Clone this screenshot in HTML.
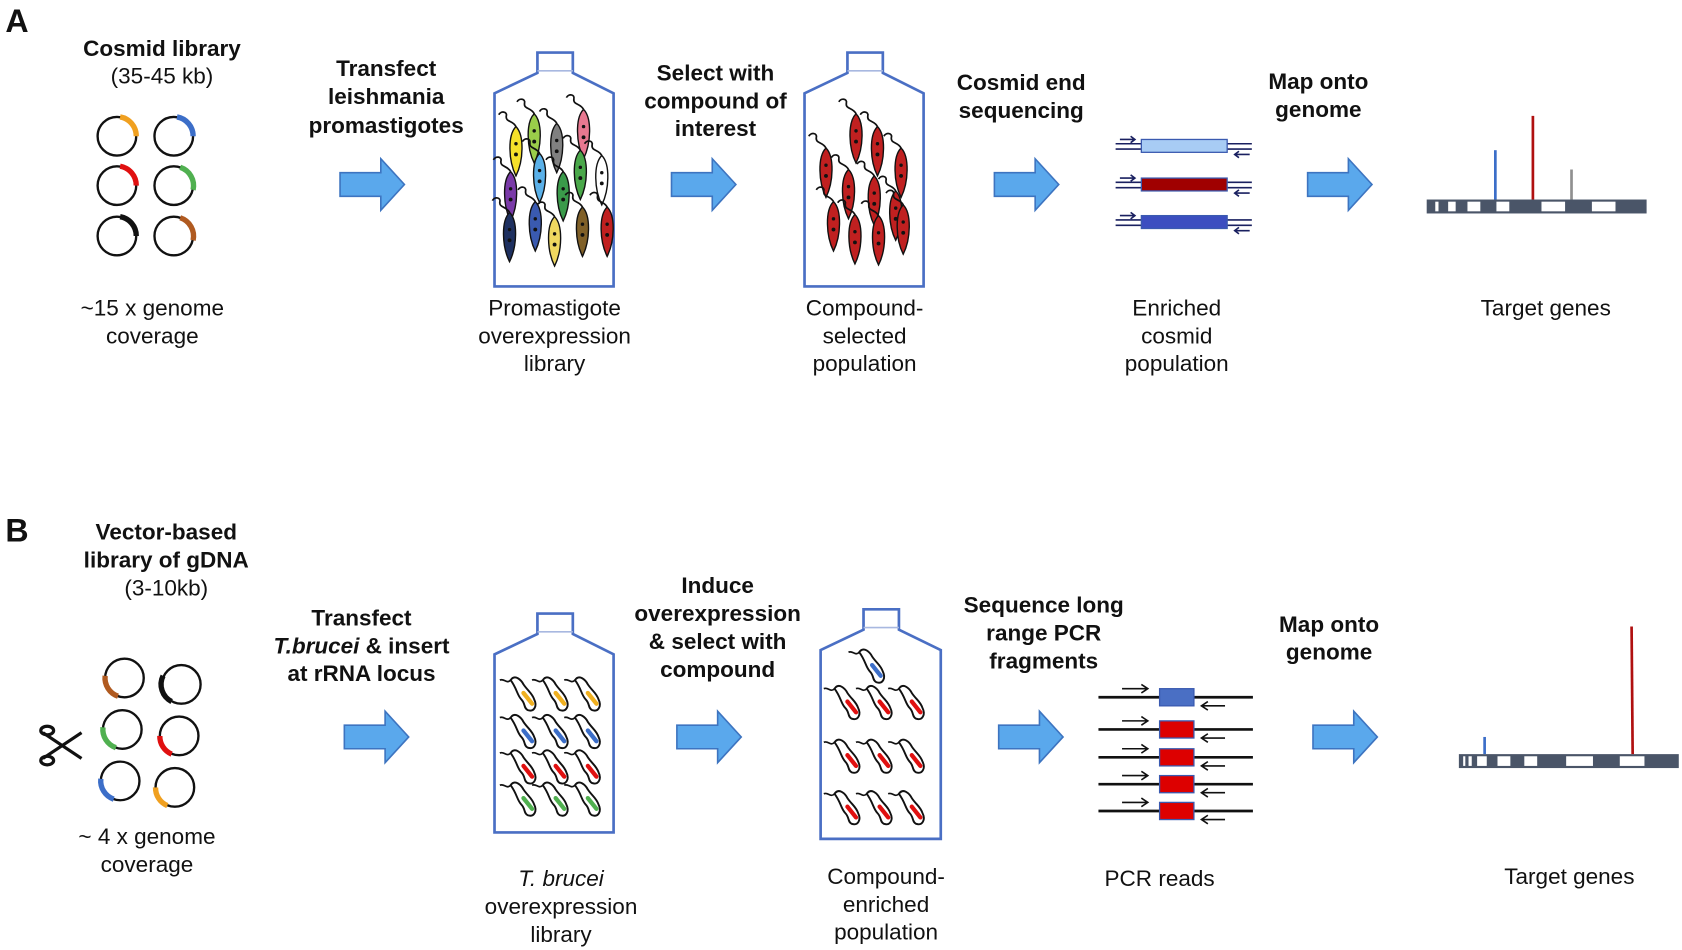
<!DOCTYPE html>
<html><head><meta charset="utf-8"><style>
html,body{margin:0;padding:0;background:#fff;}
svg{display:block;}
text{font-family:"Liberation Sans",Arial,sans-serif;font-size:21px;fill:#111;text-anchor:middle;}
.b{font-weight:bold;}
</style></head><body>
<svg width="1682" height="950" viewBox="0 0 1568 885.6" preserveAspectRatio="none" xmlns="http://www.w3.org/2000/svg">
<defs>
<g id="arr"><polygon points="0,-11 38,-11 38,-24 60,0 38,24 38,11 0,11" fill="#5aa8ec" stroke="#3d74c0" stroke-width="1.5"/></g>
<g id="para"><path d="M0,-22 C8,-14 7,10 0,24 C-7,10 -8,-14 0,-22Z" stroke="#111" stroke-width="1.3"/><path d="M0,-22 C-3,-28 -10,-26 -9,-32 C-8,-36 -14,-37 -16,-33" fill="none" stroke="#111" stroke-width="1.6"/><circle cx="0" cy="-6" r="1.6" fill="#111"/><circle cx="0" cy="4" r="1.8" fill="#111"/></g>
<g id="tb"><path d="M-14,-14 C-10,-20 -4,-14 -2,-10 C2,-4 6,-2 8,4 C11,10 8,16 2,14 C-2,12 0,8 -4,4 C-8,0 -8,-6 -14,-14Z" fill="none" stroke="#111" stroke-width="1.8"/><path d="M-14,-14 C-18,-10 -20,-16 -24,-14" fill="none" stroke="#111" stroke-width="1.6"/></g>
</defs>

<!-- Panel A -->
<text x="5" y="30" class="b" style="font-size:30px;text-anchor:start">A</text>
<text x="151" y="52" class="b">Cosmid library</text>
<text x="151" y="78">(35-45 kb)</text>
<g fill="none" stroke="#111" stroke-width="2.2">
<circle cx="109" cy="127" r="18"/><circle cx="162" cy="127" r="18"/>
<circle cx="109" cy="173" r="18"/><circle cx="162" cy="173" r="18"/>
<circle cx="109" cy="220" r="18"/><circle cx="162" cy="220" r="18"/>
</g>
<g fill="none" stroke-width="5">
<path d="M112,109 A18,18 0 0 1 127,127" stroke="#f0a020"/>
<path d="M165,109 A18,18 0 0 1 180,127" stroke="#3c6ec8"/>
<path d="M112,155 A18,18 0 0 1 127,173" stroke="#e01010"/>
<path d="M168,156 A18,18 0 0 1 180,177" stroke="#50b050"/>
<path d="M112,202 A18,18 0 0 1 127,220" stroke="#111"/>
<path d="M168,203 A18,18 0 0 1 180,224" stroke="#b05a20"/>
</g>
<text x="142" y="294">~15 x genome</text>
<text x="142" y="320">coverage</text>

<text x="360" y="71" class="b">Transfect</text>
<text x="360" y="97" class="b">leishmania</text>
<text x="360" y="124" class="b">promastigotes</text>
<use href="#arr" x="317" y="172"/>

<path d="M461,267 L461,87 L501,68 L501,49 L534,49 L534,68 L572,87 L572,267 Z" fill="none" stroke="#4a6fc4" stroke-width="2.5"/>
<line x1="501" y1="66" x2="534" y2="66" stroke="#a8b8e0" stroke-width="1.5"/>
<use href="#para" x="481" y="140" fill="#f5e02a"/>
<use href="#para" x="498" y="128" fill="#9acd4a"/>
<use href="#para" x="519" y="137" fill="#808080"/>
<use href="#para" x="544" y="124" fill="#e87890"/>
<use href="#para" x="476" y="182" fill="#7a3aa8"/>
<use href="#para" x="503" y="165" fill="#5ab0e8"/>
<use href="#para" x="525" y="182" fill="#3a9a4a"/>
<use href="#para" x="541" y="162" fill="#4aa84a"/>
<use href="#para" x="561" y="167" fill="#ffffff"/>
<use href="#para" x="475" y="220" fill="#1e3060"/>
<use href="#para" x="499" y="210" fill="#3a5ab0"/>
<use href="#para" x="517" y="224" fill="#f0d860"/>
<use href="#para" x="543" y="215" fill="#806028"/>
<use href="#para" x="566" y="215" fill="#c02020"/>
<text x="517" y="294">Promastigote</text>
<text x="517" y="320">overexpression</text>
<text x="517" y="346">library</text>

<text x="667" y="75" class="b">Select with</text>
<text x="667" y="101" class="b">compound of</text>
<text x="667" y="127" class="b">interest</text>
<use href="#arr" x="626" y="172"/>

<path d="M750,267 L750,87 L790,68 L790,49 L823,49 L823,68 L861,87 L861,267 Z" fill="none" stroke="#4a6fc4" stroke-width="2.5"/>
<line x1="790" y1="66" x2="823" y2="66" stroke="#a8b8e0" stroke-width="1.5"/>
<g fill="#c02020">
<use href="#para" x="798" y="128"/><use href="#para" x="818" y="140"/>
<use href="#para" x="770" y="160"/><use href="#para" x="840" y="160"/>
<use href="#para" x="791" y="180"/><use href="#para" x="815" y="186"/>
<use href="#para" x="835" y="200"/><use href="#para" x="777" y="210"/>
<use href="#para" x="797" y="222"/><use href="#para" x="819" y="223"/>
<use href="#para" x="842" y="213"/>
</g>
<text x="806" y="294">Compound-</text>
<text x="806" y="320">selected</text>
<text x="806" y="346">population</text>

<text x="952" y="84" class="b">Cosmid end</text>
<text x="952" y="110" class="b">sequencing</text>
<use href="#arr" x="927" y="172"/>

<g stroke="#1a2060" stroke-width="1.5" fill="none">
<path d="M1040,134 H1167 M1040,139 H1167 M1040,170 H1167 M1040,175 H1167 M1040,205 H1167 M1040,210 H1167"/>
<path d="M1044,130 H1058 M1054,127 L1058,130 L1054,133 M1044,166 H1058 M1054,163 L1058,166 L1054,169 M1044,201 H1058 M1054,198 L1058,201 L1054,204"/>
<path d="M1165,144 H1151 M1155,141 L1151,144 L1155,147 M1165,180 H1151 M1155,177 L1151,180 L1155,183 M1165,215 H1151 M1155,212 L1151,215 L1155,218"/>
</g>
<rect x="1064" y="130" width="80" height="12" fill="#a8ccf4" stroke="#3a5ab0" stroke-width="1.2"/>
<rect x="1064" y="166" width="80" height="12" fill="#a00000" stroke="#3a5ab0" stroke-width="1.2"/>
<rect x="1064" y="201" width="80" height="12" fill="#3c4ec0" stroke="#3a5ab0" stroke-width="1.2"/>
<text x="1097" y="294">Enriched</text>
<text x="1097" y="320">cosmid</text>
<text x="1097" y="346">population</text>

<text x="1229" y="83" class="b">Map onto</text>
<text x="1229" y="109" class="b">genome</text>
<use href="#arr" x="1219" y="172"/>

<rect x="1330" y="186" width="205" height="13" fill="#4a5568"/>
<g fill="#fff"><rect x="1338" y="188" width="3" height="9"/><rect x="1350" y="188" width="7" height="9"/><rect x="1368" y="188" width="12" height="9"/><rect x="1395" y="188" width="12" height="9"/><rect x="1437" y="188" width="22" height="9"/><rect x="1484" y="188" width="22" height="9"/></g>
<line x1="1394" y1="140" x2="1394" y2="186" stroke="#3c6ec8" stroke-width="2.5"/>
<line x1="1429" y1="108" x2="1429" y2="186" stroke="#b01010" stroke-width="2.5"/>
<line x1="1465" y1="158" x2="1465" y2="186" stroke="#909090" stroke-width="2.5"/>
<text x="1441" y="294">Target genes</text>

<!-- Panel B -->
<text x="5" y="505" class="b" style="font-size:30px;text-anchor:start">B</text>
<text x="155" y="503" class="b">Vector-based</text>
<text x="155" y="529" class="b">library of gDNA</text>
<text x="155" y="555">(3-10kb)</text>
<g fill="none" stroke="#111" stroke-width="2.2">
<circle cx="116" cy="632" r="18"/><circle cx="169" cy="638" r="18"/>
<circle cx="114" cy="680" r="18"/><circle cx="167" cy="686" r="18"/>
<circle cx="112" cy="728" r="18"/><circle cx="163" cy="734" r="18"/>
</g>
<g fill="none" stroke-width="5">
<path d="M98,630 A18,18 0 0 0 110,649" stroke="#b05a20"/>
<path d="M152,630 A18,18 0 0 0 160,654" stroke="#111"/>
<path d="M96,678 A18,18 0 0 0 108,697" stroke="#50b050"/>
<path d="M149,686 A18,18 0 0 0 160,703" stroke="#e01010"/>
<path d="M94,726 A18,18 0 0 0 106,745" stroke="#3c6ec8"/>
<path d="M145,734 A18,18 0 0 0 156,751" stroke="#f0a020"/>
</g>
<g stroke="#111" stroke-width="3" fill="none">
<line x1="40" y1="683" x2="76" y2="707"/><line x1="40" y1="707" x2="76" y2="683"/>
<ellipse cx="44" cy="681" rx="6" ry="4"/><ellipse cx="44" cy="709" rx="6" ry="4"/>
</g>
<text x="137" y="787">~ 4 x genome</text>
<text x="137" y="813">coverage</text>

<text x="337" y="583" class="b">Transfect</text>
<text x="337" y="609" class="b"><tspan font-style="italic">T.brucei</tspan> &amp; insert</text>
<text x="337" y="635" class="b">at rRNA locus</text>
<use href="#arr" x="321" y="687"/>

<path d="M461,776 L461,610 L501,591 L501,572 L534,572 L534,591 L572,610 L572,776 Z" fill="none" stroke="#4a6fc4" stroke-width="2.5"/>
<line x1="501" y1="589" x2="534" y2="589" stroke="#a8b8e0" stroke-width="1.5"/>
<g>
<g fill="#f0b020"><use href="#tb" x="490" y="648"/><use href="#tb" x="520" y="648"/><use href="#tb" x="550" y="648"/></g>
<use href="#tb" x="490" y="683"/><use href="#tb" x="520" y="683"/><use href="#tb" x="550" y="683"/>
<use href="#tb" x="490" y="716"/><use href="#tb" x="520" y="716"/><use href="#tb" x="550" y="716"/>
<use href="#tb" x="490" y="746"/><use href="#tb" x="520" y="746"/><use href="#tb" x="550" y="746"/>
</g>
<g stroke-width="4" fill="none" stroke-linecap="round">
<path d="M488,646 L496,656 M518,646 L526,656 M548,646 L556,656" stroke="#f0b020"/>
<path d="M488,681 L496,691 M518,681 L526,691 M548,681 L556,691" stroke="#3c6ec8"/>
<path d="M488,714 L496,724 M518,714 L526,724 M548,714 L556,724" stroke="#e01010"/>
<path d="M488,744 L496,754 M518,744 L526,754 M548,744 L556,754" stroke="#50b050"/>
</g>
<text x="523" y="826" style="font-style:italic">T. brucei</text>
<text x="523" y="852">overexpression</text>
<text x="523" y="878">library</text>

<text x="669" y="553" class="b">Induce</text>
<text x="669" y="579" class="b">overexpression</text>
<text x="669" y="605" class="b">&amp; select with</text>
<text x="669" y="631" class="b">compound</text>
<use href="#arr" x="631" y="687"/>

<path d="M765,782 L765,606 L805,587 L805,568 L838,568 L838,587 L877,606 L877,782 Z" fill="none" stroke="#4a6fc4" stroke-width="2.5"/>
<line x1="805" y1="585" x2="838" y2="585" stroke="#a8b8e0" stroke-width="1.5"/>
<use href="#tb" x="815" y="622"/>
<use href="#tb" x="792" y="656"/><use href="#tb" x="822" y="656"/><use href="#tb" x="852" y="656"/>
<use href="#tb" x="792" y="706"/><use href="#tb" x="822" y="706"/><use href="#tb" x="852" y="706"/>
<use href="#tb" x="792" y="754"/><use href="#tb" x="822" y="754"/><use href="#tb" x="852" y="754"/>
<g stroke-width="4" fill="none" stroke-linecap="round">
<path d="M813,620 L821,630" stroke="#3c6ec8"/>
<path d="M790,654 L798,664 M820,654 L828,664 M850,654 L858,664 M790,704 L798,714 M820,704 L828,714 M850,704 L858,714 M790,752 L798,762 M820,752 L828,762 M850,752 L858,762" stroke="#e01010"/>
</g>
<text x="826" y="824">Compound-</text>
<text x="826" y="850">enriched</text>
<text x="826" y="876">population</text>

<text x="973" y="571" class="b">Sequence long</text>
<text x="973" y="597" class="b">range PCR</text>
<text x="973" y="623" class="b">fragments</text>
<use href="#arr" x="931" y="687"/>

<g stroke="#111" stroke-width="2.5" fill="none">
<path d="M1024,650 H1168 M1024,680 H1168 M1024,706 H1168 M1024,731 H1168 M1024,756 H1168"/>
</g>
<g stroke="#111" stroke-width="1.5" fill="none">
<path d="M1046,642 H1070 M1064,638 L1070,642 L1064,646 M1046,672 H1070 M1064,668 L1070,672 L1064,676 M1046,698 H1070 M1064,694 L1070,698 L1064,702 M1046,723 H1070 M1064,719 L1070,723 L1064,727 M1046,748 H1070 M1064,744 L1070,748 L1064,752"/>
<path d="M1142,658 H1120 M1126,654 L1120,658 L1126,662 M1142,688 H1120 M1126,684 L1120,688 L1126,692 M1142,714 H1120 M1126,710 L1120,714 L1126,718 M1142,739 H1120 M1126,735 L1120,739 L1126,743 M1142,764 H1120 M1126,760 L1120,764 L1126,768"/>
</g>
<rect x="1081" y="642" width="32" height="16" fill="#4a6fc4" stroke="#3a5ab0" stroke-width="1.2"/>
<rect x="1081" y="672" width="32" height="16" fill="#dd0000" stroke="#3a5ab0" stroke-width="1.2"/>
<rect x="1081" y="698" width="32" height="16" fill="#dd0000" stroke="#3a5ab0" stroke-width="1.2"/>
<rect x="1081" y="723" width="32" height="16" fill="#dd0000" stroke="#3a5ab0" stroke-width="1.2"/>
<rect x="1081" y="748" width="32" height="16" fill="#dd0000" stroke="#3a5ab0" stroke-width="1.2"/>
<text x="1081" y="826">PCR reads</text>

<text x="1239" y="589" class="b">Map onto</text>
<text x="1239" y="615" class="b">genome</text>
<use href="#arr" x="1224" y="687"/>

<rect x="1360" y="703" width="205" height="13" fill="#4a5568"/>
<g fill="#fff"><rect x="1364" y="705" width="2" height="9"/><rect x="1369" y="705" width="3" height="9"/><rect x="1377" y="705" width="9" height="9"/><rect x="1396" y="705" width="12" height="9"/><rect x="1421" y="705" width="12" height="9"/><rect x="1460" y="705" width="25" height="9"/><rect x="1510" y="705" width="23" height="9"/></g>
<line x1="1384" y1="687" x2="1384" y2="703" stroke="#3c6ec8" stroke-width="2.5"/>
<line x1="1521" y1="584" x2="1522" y2="703" stroke="#b01010" stroke-width="2.5"/>
<text x="1463" y="824">Target genes</text>
</svg>
</body></html>
